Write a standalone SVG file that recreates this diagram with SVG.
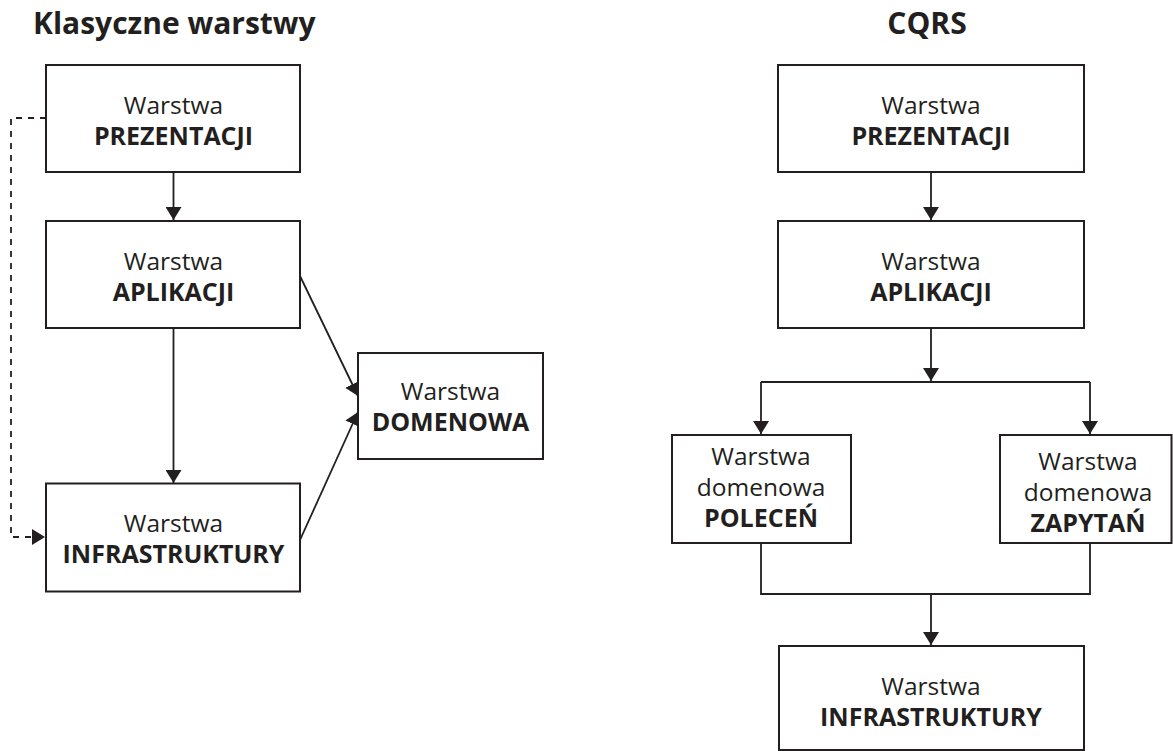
<svg xmlns="http://www.w3.org/2000/svg" width="1173" height="751" viewBox="0 0 1173 751">
  <style>
    .box { fill: #ffffff; stroke: #231f20; stroke-width: 2; }
    .t { font-family: "Open Sans", "Noto Sans", "DejaVu Sans", sans-serif; font-size: 24.5px; fill: #231f20; text-anchor: middle; }
    .b { font-weight: bold; font-size: 25px; }
    .title { font-family: "Open Sans", "Noto Sans", "DejaVu Sans", sans-serif; font-size: 30px; font-weight: bold; fill: #231f20; }
    .wire { fill: none; stroke: #231f20; stroke-width: 1.8; }
    .arrow { marker-end: url(#head); }
    .dash { stroke-dasharray: 6 6; }
  </style>
  <defs>
    <marker id="head" markerUnits="userSpaceOnUse" markerWidth="14" markerHeight="16" refX="13" refY="8" orient="auto" viewBox="0 0 14 16">
      <path d="M0,0 L13,8 L0,16 Z" fill="#231f20"/>
    </marker>
  </defs>

  <!-- column titles -->
  <text class="title" x="33" y="34">Klasyczne warstwy</text>
  <text class="title" x="927" y="34" text-anchor="middle">CQRS</text>

  <!-- connectors -->
  <g id="connectors">
    <!-- classic layers -->
    <path class="wire arrow" d="M173.5,172 V220"/>
    <path class="wire arrow" d="M173.5,328 V483"/>
    <path class="wire arrow" d="M300,276 L358,396"/>
    <path class="wire arrow" d="M300,540 L358,412"/>
    <path class="wire arrow dash" d="M46,118 H11 V537 H45"/>
    <!-- CQRS -->
    <path class="wire arrow" d="M931,172 V220"/>
    <path class="wire arrow" d="M931,328 V381"/>
    <path class="wire" d="M761,382 H1090"/>
    <path class="wire arrow" d="M761,382 V434"/>
    <path class="wire arrow" d="M1090,382 V434"/>
    <path class="wire" d="M761,543 V594 H1090 V543"/>
    <path class="wire arrow" d="M931,594 V645"/>
  </g>

  <!-- classic layers -->
  <g id="classic-presentation">
    <rect class="box" x="46" y="65" width="254" height="107"/>
    <text class="t" x="173.5" y="114">Warstwa</text>
    <text class="t b" x="173.5" y="145">PREZENTACJI</text>
  </g>
  <g id="classic-application">
    <rect class="box" x="46" y="221" width="254" height="107"/>
    <text class="t" x="173.5" y="270">Warstwa</text>
    <text class="t b" x="173.5" y="301">APLIKACJI</text>
  </g>
  <g id="classic-infrastructure">
    <rect class="box" x="46" y="483.5" width="254" height="108"/>
    <text class="t" x="173.5" y="532">Warstwa</text>
    <text class="t b" x="173.5" y="563">INFRASTRUKTURY</text>
  </g>
  <g id="classic-domain">
    <rect class="box" x="358" y="353" width="185" height="106"/>
    <text class="t" x="450.5" y="400">Warstwa</text>
    <text class="t b" x="450.5" y="431">DOMENOWA</text>
  </g>

  <!-- CQRS -->
  <g id="cqrs-presentation">
    <rect class="box" x="778" y="65" width="306" height="107"/>
    <text class="t" x="931" y="114">Warstwa</text>
    <text class="t b" x="931" y="145">PREZENTACJI</text>
  </g>
  <g id="cqrs-application">
    <rect class="box" x="778" y="221" width="306" height="107"/>
    <text class="t" x="931" y="270">Warstwa</text>
    <text class="t b" x="931" y="301">APLIKACJI</text>
  </g>
  <g id="cqrs-commands">
    <rect class="box" x="672" y="435" width="179" height="108"/>
    <text class="t" x="761" y="465">Warstwa</text>
    <text class="t" x="761" y="496">domenowa</text>
    <text class="t b" x="761" y="527">POLECEŃ</text>
  </g>
  <g id="cqrs-queries">
    <rect class="box" x="1000" y="435" width="171.5" height="108"/>
    <text class="t" x="1088" y="470">Warstwa</text>
    <text class="t" x="1088" y="501">domenowa</text>
    <text class="t b" x="1088" y="532">ZAPYTAŃ</text>
  </g>
  <g id="cqrs-infrastructure">
    <rect class="box" x="779" y="646" width="305" height="104"/>
    <text class="t" x="931" y="695">Warstwa</text>
    <text class="t b" x="931" y="726">INFRASTRUKTURY</text>
  </g>
</svg>
